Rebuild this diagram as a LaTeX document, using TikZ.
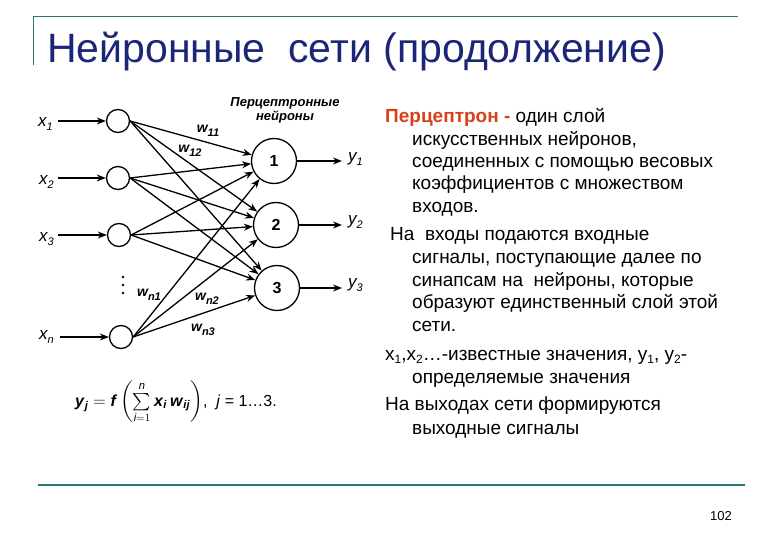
\documentclass[tikz,border=0pt]{standalone}
\usepackage{amsmath}
\usepackage{fontspec}
\setmainfont{Liberation Sans}
\usetikzlibrary{arrows.meta}
\definecolor{titleblue}{RGB}{28,38,120}
\definecolor{ruleteal}{RGB}{40,120,120}
\definecolor{pred}{RGB}{215,65,25}
\tikzset{
  inp/.style={circle,draw,line width=1.3pt,minimum size=23pt,inner sep=0pt},
  outn/.style={circle,draw,line width=1.3pt,minimum size=45pt,inner sep=0pt,font=\fontsize{16}{16}\selectfont\bfseries},
  conn/.style={line width=1.3pt,-{Stealth[length=9pt,width=7pt]}},
  lbl/.style={inner sep=0pt,font=\fontsize{17}{17}\selectfont\itshape},
  wlbl/.style={inner sep=0pt,font=\fontsize{14}{14}\selectfont\itshape\bfseries},
  rtext/.style={anchor=base west,inner sep=0pt,font=\fontsize{19}{19}\selectfont},
  dotmark/.style={fill=black,circle,inner sep=0pt,minimum size=2.6pt}
}
\newcommand{\lsub}[1]{\raisebox{-3.5pt}{\fontsize{11}{11}\selectfont #1}}
\newcommand{\tsub}[1]{\raisebox{-3.5pt}{\fontsize{12}{12}\selectfont #1}}
\begin{document}
\begin{tikzpicture}[x=1pt,y=-1pt]
\useasboundingbox (0,0) rectangle (780,540);
\fill[white] (0,0) rectangle (780,540);
% frame lines
\coordinate (tl) at (33,17);
\coordinate (tr) at (738,17);
\coordinate (tb) at (33,65);
\draw[ruleteal,line width=1pt] (tb) -- (tl) -- (tr);
\coordinate (bl) at (38,485);
\coordinate (br) at (745,485);
\draw[ruleteal,line width=2pt] (bl) -- (br);
% title
\node[anchor=base west,inner sep=0pt,text=titleblue,font=\fontsize{41}{41}\selectfont] (title) at (47,63) {Нейронные\ \ сети (продолжение)};
% page number
\node[inner sep=0pt,font=\fontsize{13}{13}\selectfont] (pnum) at (721,516) {102};

% network
\node[inp] (i1) at (118,121) {};
\node[inp] (i2) at (118,178) {};
\node[inp] (i3) at (119,235) {};
\node[inp] (i4) at (121,337) {};
\node[outn] (o1) at (274,161) {1};
\node[outn] (o2) at (276,225) {2};
\node[outn] (o3) at (277,288) {3};

\coordinate (a1) at (58,121);
\coordinate (a2) at (58,178);
\coordinate (a3) at (58,235);
\coordinate (a4) at (60,337);
\foreach \k in {1,2,3,4} \draw[conn] (a\k) -- (i\k);

\node[lbl,anchor=west] (lx1) at (38,124) {x\lsub{1}};
\node[lbl,anchor=west] (lx2) at (39,182) {x\lsub{2}};
\node[lbl,anchor=west] (lx3) at (39,239) {x\lsub{3}};
\node[lbl,anchor=west] (lx4) at (39,337) {x\lsub{n}};

\coordinate (b1) at (342,161);
\coordinate (b2) at (342,225);
\coordinate (b3) at (342,288);
\foreach \k in {1,2,3} \draw[conn] (o\k) -- (b\k);
\node[lbl,anchor=west] (ly1) at (348,159) {y\lsub{1}};
\node[lbl,anchor=west] (ly2) at (348,222) {y\lsub{2}};
\node[lbl,anchor=west] (ly3) at (348,285) {y\lsub{3}};

\foreach \i in {i1,i2,i3,i4}
  \foreach \o in {o1,o2,o3}
    \draw[conn] (\i.east) -- (\o);

\node[wlbl] (w11) at (208,131) {w\lsub{11}};
\node[wlbl] (w12) at (190,151) {w\lsub{12}};
\node[wlbl] (wn1) at (149,295) {w\lsub{n1}};
\node[wlbl] (wn2) at (207,299) {w\lsub{n2}};
\node[wlbl] (wn3) at (203,330) {w\lsub{n3}};

\node[dotmark] (d1) at (123,277) {};
\node[dotmark] (d2) at (123,285) {};
\node[dotmark] (d3) at (123,293) {};

\node[align=center,inner sep=0pt,font=\fontsize{13}{14}\selectfont\itshape\bfseries] (ptitle) at (285,110) {Перцептронные\\нейроны};

\node[inner sep=0pt] (formula) at (176,402) {\fontsize{16}{18}\selectfont
 $\textbf{\textit{y}}_{\textbf{\textit{j}}} = \textbf{\textit{f}}\left(\textstyle\sum\limits_{\textit{i}=1}^{\textit{n}} \textbf{\textit{x}}_{\textbf{\textit{i}}}\,\textbf{\textit{w}}_{\textbf{\textit{ij}}}\right)$,\ \ \textit{j} = 1…3.};

% right text
\node[rtext] (t1) at (385,123) {\textcolor{pred}{\textbf{Перцептрон -}} один слой};
\node[rtext] (t2) at (412,146) {искусственных нейронов,};
\node[rtext] (t3) at (412,168) {соединенных с помощью весовых};
\node[rtext] (t4) at (412,190) {коэффициентов с множеством};
\node[rtext] (t5) at (412,213) {входов.};
\node[rtext] (t6) at (390,241) {На\ \ входы подаются входные};
\node[rtext] (t7) at (412,264) {сигналы, поступающие далее по};
\node[rtext] (t8) at (412,287) {синапсам на\ \ нейроны, которые};
\node[rtext] (t9) at (412,309) {образуют единственный слой этой};
\node[rtext] (t10) at (412,332) {сети.};
\node[rtext] (t11) at (385,360) {x\tsub{1},x\tsub{2}…-известные значения, y\tsub{1}, y\tsub{2}-};
\node[rtext] (t12) at (412,384) {определяемые значения};
\node[rtext] (t13) at (385,410) {На выходах сети формируются};
\node[rtext] (t14) at (412,435) {выходные сигналы};
\end{tikzpicture}
\end{document}
